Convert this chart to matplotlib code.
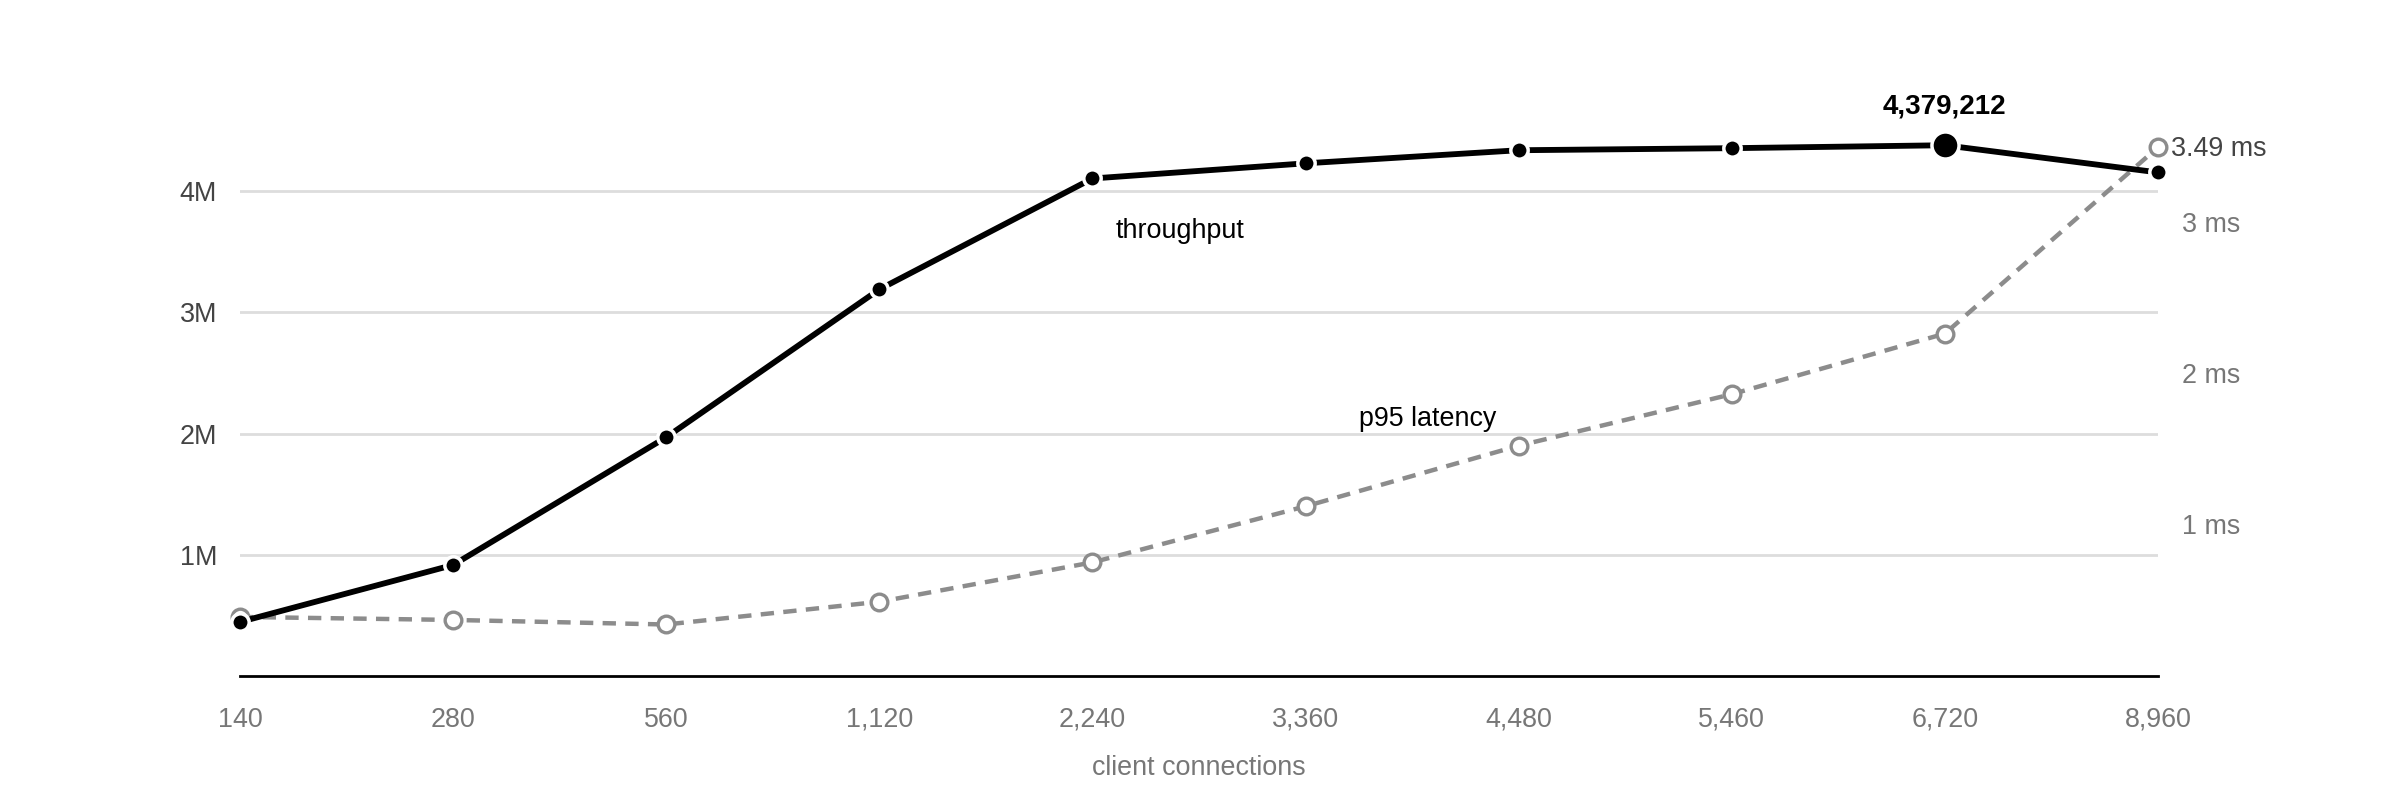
import matplotlib
matplotlib.use("Agg")
import matplotlib.pyplot as plt

# ---- data ----
connections = ["140", "280", "560", "1,120", "2,240", "3,360", "4,480", "5,460", "6,720", "8,960"]
throughput = [446000, 916000, 1970000, 3190000, 4105000, 4230000, 4338000, 4355000, 4379212, 4155000]
latency_ms = [0.39, 0.37, 0.34, 0.49, 0.75, 1.12, 1.52, 1.86, 2.26, 3.49]
left_ticks = [1_000_000, 2_000_000, 3_000_000, 4_000_000]
left_tick_labels = ["1M", "2M", "3M", "4M"]
right_ticks = [1, 2, 3]
right_tick_labels = ["1 ms", "2 ms", "3 ms"]
x_label = "client connections"
throughput_label = "throughput"
latency_label = "p95 latency"

plt.rcParams["font.family"] = ["Liberation Sans", "DejaVu Sans"]
FS = 19.4

fig = plt.figure(figsize=(24, 7.97), dpi=100)
ax = fig.add_axes([0.1, 121 / 797, 1918 / 2400, 584 / 797])
ax2 = ax.twinx()

x = list(range(len(connections)))
ax.set_xlim(0, len(connections) - 1)
ax.set_ylim(0, 584 / 121.2 * 1e6)
ax2.set_ylim(0, 584 / 151.5)

# grid
for t in left_ticks:
    ax.axhline(t, color="#dddddd", lw=2, zorder=0)

for a in (ax, ax2):
    for s in a.spines.values():
        s.set_visible(False)
ax.spines["bottom"].set_visible(True)
ax.spines["bottom"].set_color("black")
ax.spines["bottom"].set_linewidth(2)

ax.set_xticks(x)
ax.set_xticklabels(connections)
ax.tick_params(axis="x", length=0, pad=22, labelsize=FS, labelcolor="#777777")
ax.set_yticks(left_ticks)
ax.set_yticklabels(left_tick_labels)
ax.tick_params(axis="y", length=0, pad=16.5, labelsize=FS, labelcolor="#444444")
ax2.set_yticks(right_ticks)
ax2.set_yticklabels(right_tick_labels)
ax2.tick_params(axis="y", length=0, pad=17, labelsize=FS, labelcolor="#777777")
ax.set_xlabel(x_label, fontsize=FS, color="#777777", labelpad=16.5)

# latency (on right axis)
ax2.plot(x, latency_ms, color="#8c8c8c", lw=3.2, dashes=(3.0, 2.1),
         marker="o", ms=12, mfc="white", mec="#8c8c8c", mew=2.4, clip_on=False, zorder=2)

# throughput (left-axis scale, drawn on top)
ax2.plot(x, throughput, transform=ax.transData, color="black", lw=4.2,
         marker="o", ms=12.5, mfc="black", mec="white", mew=2.5, clip_on=False, zorder=3)
imax = max(range(len(throughput)), key=lambda i: throughput[i])
ax2.plot([imax], [throughput[imax]], transform=ax.transData, ls="none",
         marker="o", ms=19.5, mfc="black", mec="white", mew=2.5, clip_on=False, zorder=4)

ax2.annotate(f"{throughput[imax]:,}", xy=(imax, throughput[imax]), xycoords=ax.transData,
             xytext=(0, 28), textcoords="offset points", ha="center", va="center",
             fontsize=20, fontweight="bold", color="black")
ax2.annotate(f"{latency_ms[-1]:.2f} ms", xy=(x[-1], latency_ms[-1]), xycoords=ax2.transData,
             xytext=(9.4, -1.5), textcoords="offset points", ha="left", va="center",
             fontsize=FS, color="#444444", annotation_clip=False)

ax2.text(4.111, 3.614e6, throughput_label, transform=ax.transData, ha="left",
         va="baseline", fontsize=FS, color="black")
ax2.text(5.251, 1.653, latency_label, ha="left", va="baseline", fontsize=FS, color="black")

fig.savefig("out.png", dpi=100, facecolor="white")
